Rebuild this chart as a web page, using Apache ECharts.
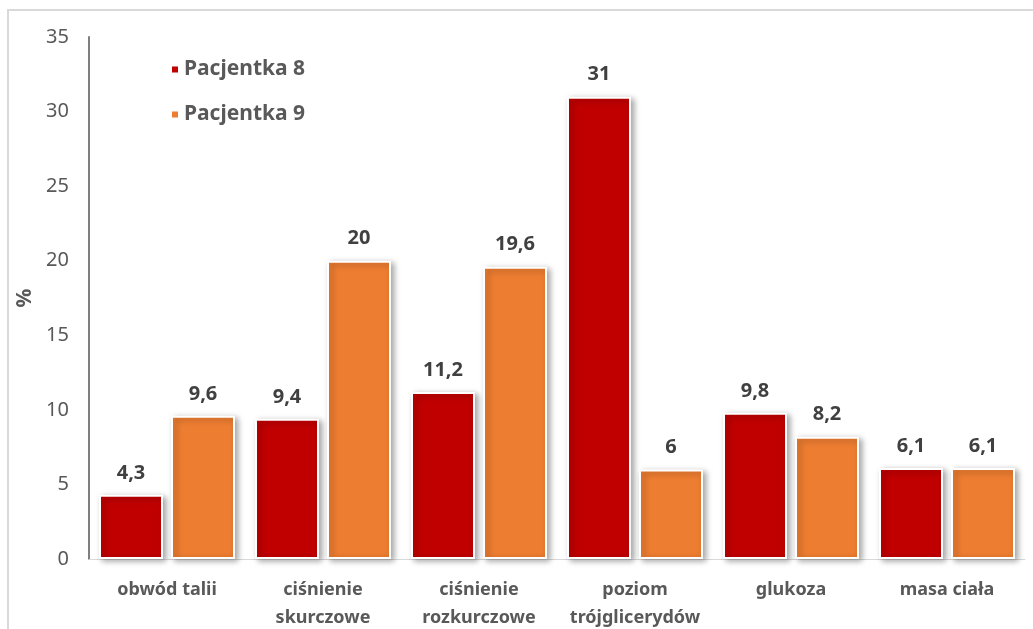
<!DOCTYPE html>
<html>
<head>
<meta charset="utf-8">
<script src="https://cdn.jsdelivr.net/npm/echarts@6/dist/echarts.min.js"></script>
<style>
  html, body { margin: 0; padding: 0; background: #fff; }
  #chart { width: 1033px; height: 629px; }
</style>
</head>
<body>
<div id="chart"></div>
<script>
// dane z wykresu
const categories = ['obwód talii', 'ciśnienie\nskurczowe', 'ciśnienie\nrozkurczowe', 'poziom\ntrójglicerydów', 'glukoza', 'masa ciała'];
const pacjentka8 = [4.3, 9.4, 11.2, 31, 9.8, 6.1];
const pacjentka9 = [9.6, 20, 19.6, 6, 8.2, 6.1];
const seriesNames = ['Pacjentka 8', 'Pacjentka 9'];
const colors = ['#C00000', '#ED7D31'];

const font = '"Noto Sans", "DejaVu Sans", sans-serif';

const chart = echarts.init(document.getElementById('chart'));

// wspólny styl słupka (biała obwódka + cień)
const makeSeries = (name, data, color) => ({
  name: name,
  type: 'bar',
  data: data,
  barWidth: 64,
  barGap: '12.5%',
  itemStyle: {
    color: color,
    borderColor: '#ffffff',
    borderWidth: 2,
    shadowColor: 'rgba(0, 0, 0, 0.35)',
    shadowBlur: 6,
    shadowOffsetX: 3,
    shadowOffsetY: 2,
  },
  label: {
    show: true,
    position: 'top',
    distance: 12,
    color: '#404040',
    fontFamily: font,
    fontWeight: 'bold',
    fontSize: 20,
    formatter: (p) => String(p.value).replace('.', ','),
  },
});

const option = {
  animation: false,
  color: colors,
  graphic: [{
    type: 'rect',
    shape: { x: 8, y: 10, width: 1100, height: 700 },
    style: { fill: 'none', stroke: '#d9d9d9', lineWidth: 2 },
    silent: true,
  }],
  grid: {
    left: 89,
    right: 8,
    top: 37,
    bottom: 70,
    outerBoundsMode: 'none',
  },
  legend: {
    orient: 'vertical',
    left: 165,
    top: 54,
    itemGap: 24,
    itemWidth: 8,
    itemHeight: 8,
    icon: 'rect',
    data: seriesNames,
    textStyle: {
      color: '#595959',
      fontFamily: font,
      fontWeight: 'bold',
      fontSize: 21,
    },
  },
  xAxis: {
    type: 'category',
    data: categories,
    axisLine: { lineStyle: { color: '#d9d9d9', width: 1 } },
    axisTick: { show: false },
    axisLabel: {
      interval: 0,
      margin: 17,
      color: '#595959',
      fontFamily: font,
      fontWeight: 'bold',
      fontSize: 18,
      lineHeight: 28,
    },
  },
  yAxis: {
    type: 'value',
    min: 0,
    max: 35,
    interval: 5,
    name: '%',
    nameLocation: 'middle',
    nameRotate: 90,
    nameGap: 52,
    nameTextStyle: {
      color: '#595959',
      fontFamily: font,
      fontWeight: 'bold',
      fontSize: 21,
    },
    axisLine: { show: true, lineStyle: { color: '#7f7f7f', width: 2 } },
    axisTick: { show: false },
    splitLine: { show: false },
    axisLabel: {
      margin: 20,
      color: '#595959',
      fontFamily: font,
      fontSize: 20,
    },
  },
  series: [
    makeSeries(seriesNames[0], pacjentka8, colors[0]),
    makeSeries(seriesNames[1], pacjentka9, colors[1]),
  ],
};

chart.setOption(option);
</script>
</body>
</html>
